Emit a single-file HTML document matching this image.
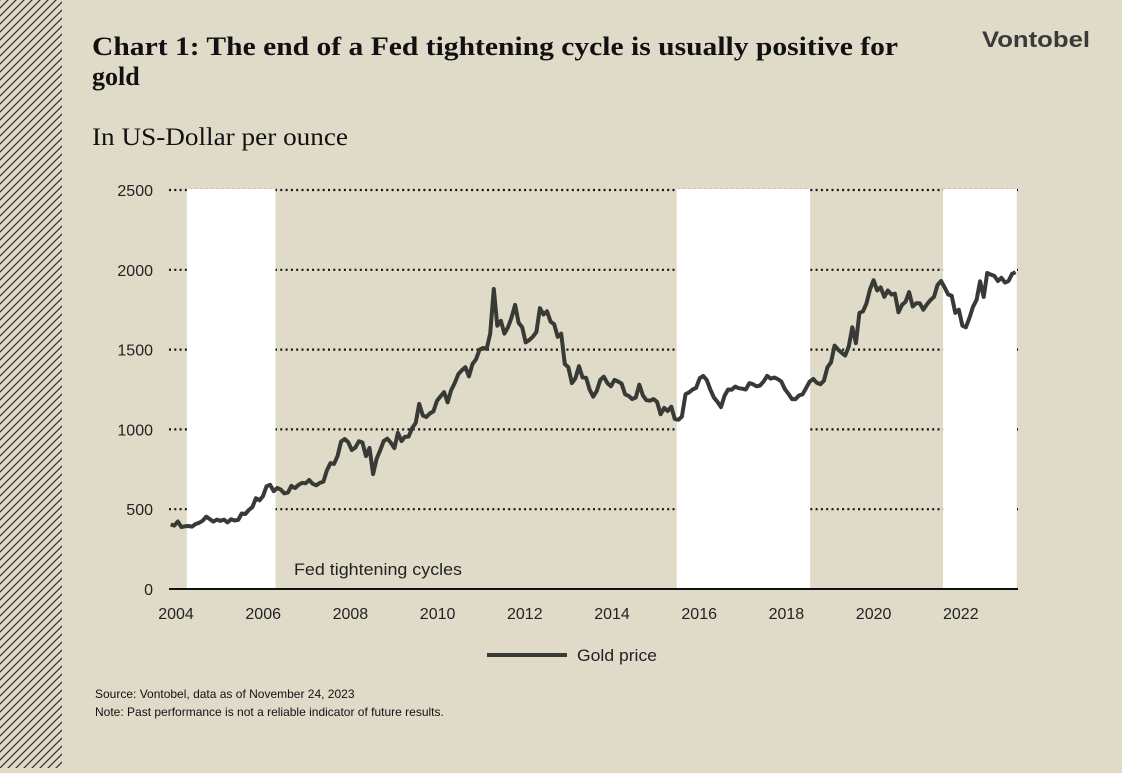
<!DOCTYPE html>
<html><head><meta charset="utf-8"><style>
html,body{margin:0;padding:0;background:#e0dbc9;}
body{width:1122px;height:768px;overflow:hidden;position:relative;}
</style></head><body>
<svg width="1122" height="768" viewBox="0 0 1122 768" xmlns="http://www.w3.org/2000/svg">
<defs><pattern id="hatch" width="8" height="8" patternUnits="userSpaceOnUse"><path d="M-1,9 L9,-1 M-1,1 L1,-1 M7,9 L9,7" stroke="#333" stroke-width="1.3"/></pattern></defs>
<rect x="0" y="0" width="1122" height="768" fill="#e0dbc9"/>
<rect x="0" y="0" width="62" height="768" fill="url(#hatch)"/>
<text x="92" y="55" font-family="Liberation Serif, serif" font-weight="bold" font-size="26" fill="#111" textLength="806" lengthAdjust="spacingAndGlyphs">Chart 1: The end of a Fed tightening cycle is usually positive for</text>
<text x="92" y="85" font-family="Liberation Serif, serif" font-weight="bold" font-size="26" fill="#111">gold</text>
<text x="1090" y="47" text-anchor="end" font-family="Liberation Sans, sans-serif" font-weight="bold" font-size="22" fill="#3a3a3a" textLength="108" lengthAdjust="spacingAndGlyphs">Vontobel</text>
<text x="92" y="145" font-family="Liberation Serif, serif" font-size="25" fill="#111" textLength="256" lengthAdjust="spacingAndGlyphs">In US-Dollar per ounce</text>
<g id="grid"></g>
<g id="bands"></g>
<g id="yticks"></g>
<g id="xticks"></g>
<line x1="169" y1="589" x2="1018" y2="589" stroke="#111" stroke-width="2"/>
<text x="294" y="575" font-family="Liberation Sans, sans-serif" font-size="17" fill="#222" textLength="168" lengthAdjust="spacingAndGlyphs">Fed tightening cycles</text>
<path id="line" fill="none" stroke="#383a36" stroke-width="4" stroke-linejoin="round"/>
<line x1="487" y1="655" x2="567" y2="655" stroke="#383a36" stroke-width="4"/>
<text x="577" y="661" font-family="Liberation Sans, sans-serif" font-size="17" fill="#222" textLength="80" lengthAdjust="spacingAndGlyphs">Gold price</text>
<text x="95" y="698" font-family="Liberation Sans, sans-serif" font-size="12" fill="#111">Source: Vontobel, data as of November 24, 2023</text>
<text x="95" y="716" font-family="Liberation Sans, sans-serif" font-size="12" fill="#111">Note: Past performance is not a reliable indicator of future results.</text>
</svg>
<script>
const yTicks=[0,500,1000,1500,2000,2500];
const xTickYears=[2004,2006,2008,2010,2012,2014,2016,2018,2020,2022];
const cycleStarts=[2004.42,2015.92,2022.17];
const cycleEnds=[2006.5,2019.05,2023.9];
const startYear=2004.0;
const gold=[
404,397,423,388,393,395,391,407,415,428,453,438,
422,435,427,435,417,437,429,433,473,470,495,513,
569,556,582,644,653,613,633,623,599,604,646,632,
652,665,662,683,659,650,665,673,743,789,783,834,
924,940,920,871,886,926,918,833,884,720,816,869,
927,942,917,883,979,927,954,955,1008,1040,1160,1087,
1078,1100,1113,1179,1207,1234,1169,1246,1290,1346,1370,1390,
1332,1410,1439,1500,1510,1505,1600,1880,1650,1680,1600,1640,
1700,1780,1668,1640,1545,1560,1580,1610,1760,1720,1740,1675,
1660,1580,1600,1410,1390,1290,1320,1396,1326,1323,1250,1205,
1240,1310,1330,1290,1270,1310,1300,1287,1220,1210,1190,1200,
1280,1213,1183,1180,1190,1172,1095,1135,1115,1142,1065,1060,
1080,1220,1232,1250,1260,1320,1335,1309,1250,1200,1173,1140,
1210,1250,1248,1268,1258,1255,1250,1290,1283,1270,1275,1300,
1335,1318,1325,1315,1300,1252,1223,1190,1190,1213,1220,1260,
1300,1316,1292,1283,1305,1390,1420,1525,1500,1480,1463,1520,
1640,1540,1730,1740,1790,1880,1935,1870,1890,1830,1870,1845,
1850,1734,1780,1800,1860,1770,1790,1790,1750,1783,1810,1830,
1905,1930,1890,1845,1837,1730,1750,1650,1640,1700,1768,1812,
1928,1830,1980,1970,1962,1930,1950,1920,1930,1975,1985
];
const NS='http://www.w3.org/2000/svg';
const X0=169,PXY=42.6,Y0=589,PXV=399/2500,LX0=176,LPX=43.6;
function x(t){return X0+(t-startYear)*PXY;}
function y(v){return Y0-v*PXV;}
function lx(t){return LX0+(t-2004)*LPX;}
const bands=document.getElementById('bands');
cycleStarts.forEach((s,i)=>{
 const r=document.createElementNS(NS,'rect');
 r.setAttribute('x',x(s));r.setAttribute('y',189);
 r.setAttribute('width',Math.min(x(cycleEnds[i]),1018)-x(s));r.setAttribute('height',400);
 r.setAttribute('fill','#fff');
 
 
 bands.appendChild(r);
});
const grid=document.getElementById('grid'),yt=document.getElementById('yticks');
yTicks.forEach(v=>{
 if(v>0){
  const l=document.createElementNS(NS,'line');
  l.setAttribute('x1',X0);l.setAttribute('x2',1018);l.setAttribute('y1',y(v));l.setAttribute('y2',y(v));
  l.setAttribute('stroke','#111');l.setAttribute('stroke-width','2.2');l.setAttribute('stroke-dasharray','2 3.3');
  
  
  grid.appendChild(l);
 }
 const t=document.createElementNS(NS,'text');
 t.setAttribute('x',153);t.setAttribute('y',y(v)+6);t.setAttribute('text-anchor','end');
 t.setAttribute('font-family','Liberation Sans, sans-serif');t.setAttribute('font-size','16');t.setAttribute('fill','#222');
 t.textContent=v;
 
 
 yt.appendChild(t);
});
const xt=document.getElementById('xticks');
xTickYears.forEach(yr=>{
 const t=document.createElementNS(NS,'text');
 t.setAttribute('x',lx(yr));t.setAttribute('y',619);t.setAttribute('text-anchor','middle');
 t.setAttribute('font-family','Liberation Sans, sans-serif');t.setAttribute('font-size','16');t.setAttribute('fill','#222');
 t.textContent=yr;
 
 
 xt.appendChild(t);
});
let d='';
gold.forEach((v,i)=>{d+=(i?'L':'M')+x(startYear+i/12+0.04).toFixed(1)+','+y(v).toFixed(1);});
document.getElementById('line').setAttribute('d',d);
</script>
</body></html>
